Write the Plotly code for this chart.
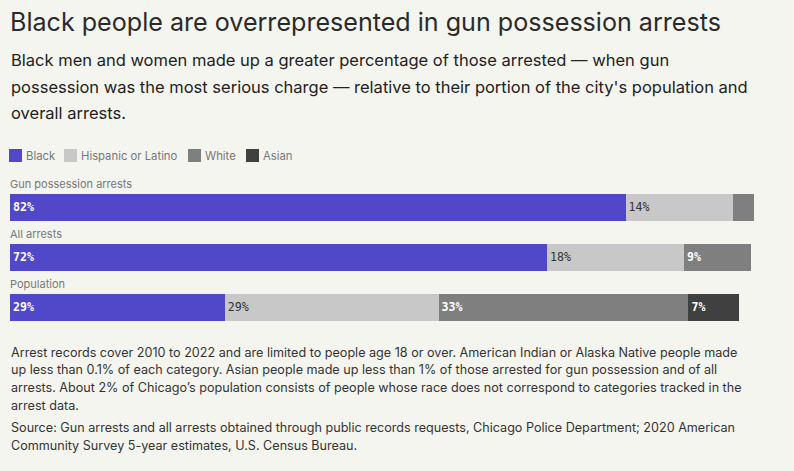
import plotly.graph_objects as go

categories = ["Gun possession arrests", "All arrests", "Population"]
groups = ["Black", "Hispanic or Latino", "White", "Asian"]
black = [82.3, 71.8, 28.7]
hispanic = [14.3, 18.3, 28.6]
white = [2.8, 9.0, 33.4]
asian = [0.0, 0.0, 6.7]
series = [black, hispanic, white, asian]

colors = ["#5047c9", "#c8c8c8", "#7f7f7f", "#404040"]
text_colors = ["#ffffff", "#333333", "#ffffff", "#ffffff"]
text_weights = ["bold", "normal", "bold", "bold"]

title = "Black people are overrepresented in gun possession arrests"
subtitle_lines = [
    "Black men and women made up a greater percentage of those arrested \u2014 when gun",
    "possession was the most serious charge \u2014 relative to their portion of the city's population and",
    "overall arrests.",
]
note_lines = [
    "Arrest records cover 2010 to 2022 and are limited to people age 18 or over. American Indian or Alaska Native people made",
    "up less than 0.1% of each category. Asian people made up less than 1% of those arrested for gun possession and of all",
    "arrests. About 2% of Chicago\u2019s population consists of people whose race does not correspond to categories tracked in the",
    "arrest data.",
]
source_lines = [
    "Source: Gun arrests and all arrests obtained through public records requests, Chicago Police Department; 2020 American",
    "Community Survey 5-year estimates, U.S. Census Bureau.",
]

BG = "#f5f5f0"
FONT = "Inter, Roboto, Liberation Sans, sans-serif"
MONO = "DejaVu Sans Mono, Liberation Mono, monospace"

W, H = 794, 471
ML, MT, PH = 10, 182, 150
PW = 748
MR = W - ML - PW
MB = H - MT - PH


def py(p):
    return (MT + PH - p) / PH


def px(p):
    return (p - ML) / PW


fig = go.Figure()
for name, vals, col, tcol, tw in zip(groups, series, colors, text_colors, text_weights):
    labels = [f"{round(v)}%" if v >= 5 else "" for v in vals]
    fig.add_trace(go.Bar(
        name=name, y=categories, x=vals, orientation="h",
        marker=dict(color=col, line=dict(width=0)),
        text=labels, texttemplate="%{text}", textposition="inside",
        insidetextanchor="start", constraintext="none",
        textfont=dict(family=MONO, size=11.6, color=tcol, weight=tw),
        hoverinfo="skip", showlegend=False,
    ))

ann = []
ann.append(dict(text=title, x=0, y=py(22), xref="paper", yref="paper", xanchor="left",
                yanchor="middle", showarrow=False, xshift=-2,
                font=dict(family=FONT, size=25.1, color="#2a2a2a")))
for i, line in enumerate(subtitle_lines):
    ann.append(dict(text=line, x=0, y=py(60 + i * 26.5), xref="paper", yref="paper",
                    xanchor="left", yanchor="middle", showarrow=False, xshift=-1,
                    font=dict(family=FONT, size=16.5, color="#222222")))

# legend (swatch + label)
legend_sw_x = [9, 64, 188, 246]
for g, col, sx in zip(groups, colors, legend_sw_x):
    ann.append(dict(text=" ", x=px(sx), y=py(155.5), xref="paper", yref="paper",
                    xanchor="left", yanchor="middle", showarrow=False,
                    width=13, height=13, bgcolor=col, borderpad=0, borderwidth=0,
                    font=dict(size=1)))
    ann.append(dict(text=g, x=px(sx + 16), y=py(156), xref="paper", yref="paper",
                    xanchor="left", yanchor="middle", showarrow=False, borderpad=0,
                    font=dict(family=FONT, size=11.3, color="#777777")))

for cat in categories:
    ann.append(dict(text=cat, x=0, y=cat, xref="x", yref="y", xanchor="left",
                    yanchor="bottom", yshift=14, showarrow=False, xshift=-2,
                    font=dict(family=FONT, size=11, color="#777777")))
for i, line in enumerate(note_lines):
    ann.append(dict(text=line, x=0, y=py(352 + i * 17.8), xref="paper", yref="paper",
                    xanchor="left", yanchor="middle", showarrow=False, xshift=-1,
                    font=dict(family=FONT, size=12.6, color="#333333")))
for i, line in enumerate(source_lines):
    ann.append(dict(text=line, x=0, y=py(427 + i * 18.5), xref="paper", yref="paper",
                    xanchor="left", yanchor="middle", showarrow=False, xshift=-1,
                    font=dict(family=FONT, size=12.6, color="#333333")))

fig.update_layout(
    width=W, height=H,
    margin=dict(l=ML, r=MR, t=MT, b=MB, pad=0, autoexpand=False),
    paper_bgcolor=BG, plot_bgcolor=BG,
    barmode="stack", bargap=0.46,
    showlegend=False,
    xaxis=dict(range=[0, 100], visible=False, fixedrange=True),
    yaxis=dict(range=[2.5, -0.5], autorange=False, visible=False, fixedrange=True),
    annotations=ann,
    uniformtext=dict(mode=False),
)

fig.write_html("out.html", config={"displayModeBar": False, "staticPlot": True},
               post_script="document.body.style.margin='0px';document.body.style.background='%s';" % BG)
